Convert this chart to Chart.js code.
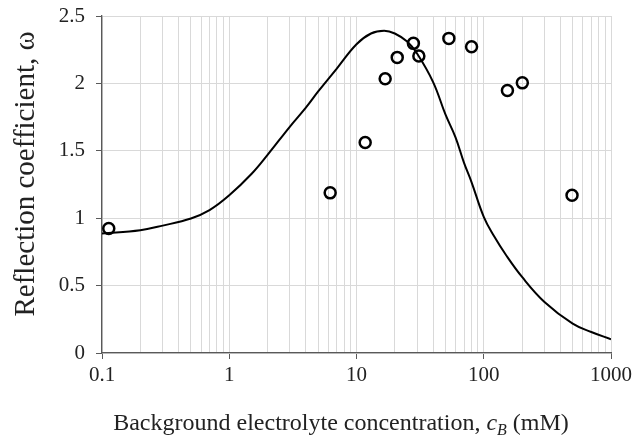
<!DOCTYPE html>
<html>
<head>
<meta charset="utf-8">
<script src="https://cdn.jsdelivr.net/npm/chart.js@4.4.1/dist/chart.umd.min.js"></script>
<style>
  body { margin: 0; background: #fff; }
  #wrap { width: 643px; height: 437px; position: relative; }
</style>
</head>
<body>
<div id="wrap"><canvas id="grafica"></canvas></div>
<script>
// Datos medidos (círculos)
const medidosX = [0.113, 6.21, 11.7, 16.8, 20.9, 28.0, 30.9, 53.2, 80.2, 153.5, 201, 494];
const medidosY = [0.924, 1.188, 1.562, 2.034, 2.193, 2.297, 2.203, 2.334, 2.272, 1.948, 2.004, 1.171];

// Curva del modelo
const modeloX = [0.1, 0.2, 0.3, 0.5, 0.7, 1, 1.5, 2, 3, 4, 5, 7, 10, 13, 16.5, 20, 25, 30, 40, 50, 60, 70, 80, 100, 120, 150, 200, 300, 500, 700, 1000];
const modeloY = [0.886, 0.911, 0.945, 0.998, 1.06, 1.17, 1.33, 1.47, 1.68, 1.82, 1.94, 2.11, 2.29, 2.37, 2.39, 2.37, 2.31, 2.22, 2.01, 1.77, 1.60, 1.41, 1.27, 1.01, 0.869, 0.725, 0.564, 0.379, 0.218, 0.156, 0.102];

// Ejes
const decadas = [0.1, 1, 10, 100, 1000];
const etiquetasX = ["0.1", "1", "10", "100", "1000"];
const multiplosMenores = [2, 3, 4, 5, 6, 7, 8, 9];
const etiquetasY = ["0", "0.5", "1", "1.5", "2", "2.5"];

const ticksX = [];
decadas.forEach((d, i) => {
  ticksX.push(d);
  if (i < decadas.length - 1) multiplosMenores.forEach(m => ticksX.push(d * m));
});

function esDecada(v) {
  const l = Math.log10(v);
  return Math.abs(l - Math.round(l)) < 1e-9;
}

const serif = "'Liberation Serif', 'Times New Roman', serif";
const gris = "#d9d9d9";
const ejeColor = "#595959";

// Títulos de los ejes (c en cursiva con subíndice B)
const titulos = {
  id: "titulos",
  afterDraw(chart) {
    const ctx = chart.ctx;
    const partes = [
      { t: "Background electrolyte concentration, ", f: "24px " + serif, dy: 0 },
      { t: "c", f: "italic 24px " + serif, dy: 0 },
      { t: "B", f: "italic 16px " + serif, dy: 5 },
      { t: " (mM)", f: "24px " + serif, dy: 0 }
    ];
    ctx.save();
    ctx.fillStyle = "#222";
    ctx.textBaseline = "alphabetic";
    ctx.textAlign = "left";
    let total = 0;
    partes.forEach(p => { ctx.font = p.f; p.w = ctx.measureText(p.t).width; total += p.w; });
    let x = 341 - total / 2;
    partes.forEach(p => {
      ctx.font = p.f;
      ctx.fillText(p.t, x, 430 + p.dy);
      x += p.w;
    });

    // Eje Y
    ctx.translate(26, 174);
    ctx.rotate(-Math.PI / 2);
    ctx.font = "29px " + serif;
    ctx.textAlign = "center";
    ctx.textBaseline = "middle";
    ctx.fillText("Reflection coefficient, ω", 0, 0);
    ctx.restore();
  }
};

const ctx = document.getElementById("grafica").getContext("2d");

new Chart(ctx, {
  type: "scatter",
  data: {
    datasets: [
      {
        label: "Medidos",
        data: medidosX.map((x, i) => ({ x: x, y: medidosY[i] })),
        pointStyle: "circle",
        pointRadius: 5.5,
        pointBorderWidth: 2.5,
        pointBorderColor: "#000",
        pointBackgroundColor: "rgba(255,255,255,0)",
        showLine: false,
        clip: false,
        order: 0
      },
      {
        label: "Modelo",
        data: modeloX.map((x, i) => ({ x: x, y: modeloY[i] })),
        showLine: true,
        borderColor: "#000",
        borderWidth: 2,
        pointRadius: 0,
        tension: 0.4,
        fill: false,
        order: 1
      }
    ]
  },
  options: {
    responsive: true,
    maintainAspectRatio: false,
    animation: false,
    layout: { padding: { top: 16, right: 32, left: 0, bottom: 0 } },
    plugins: {
      legend: { display: false },
      tooltip: { enabled: false }
    },
    scales: {
      x: {
        type: "logarithmic",
        min: 0.1,
        max: 1000,
        afterBuildTicks: scale => { scale.ticks = ticksX.map(v => ({ value: v })); },
        afterFit: scale => { scale.height = 84; },
        border: { display: true, color: ejeColor, width: 1.3 },
        grid: {
          color: gris,
          lineWidth: 1,
          tickLength: 6,
          tickColor: c => (c.tick && esDecada(c.tick.value) ? ejeColor : "rgba(0,0,0,0)")
        },
        ticks: {
          autoSkip: false,
          maxRotation: 0,
          padding: 4,
          color: "#222",
          font: { family: serif, size: 21 },
          callback: v => {
            const i = decadas.findIndex(d => Math.abs(d - v) < 1e-9 * d);
            return i >= 0 ? etiquetasX[i] : "";
          }
        }
      },
      y: {
        min: 0,
        max: 2.5,
        afterFit: scale => {
          scale.width = 102;
          scale.paddingTop = 0;
          scale.paddingBottom = 0;
        },
        border: { display: true, color: ejeColor, width: 1.3 },
        grid: { color: gris, lineWidth: 1, tickLength: 6, tickColor: ejeColor },
        ticks: {
          stepSize: 0.5,
          padding: 11,
          color: "#222",
          font: { family: serif, size: 21 },
          callback: (v, i) => etiquetasY[i]
        }
      }
    }
  },
  plugins: [titulos]
});
</script>
</body>
</html>
